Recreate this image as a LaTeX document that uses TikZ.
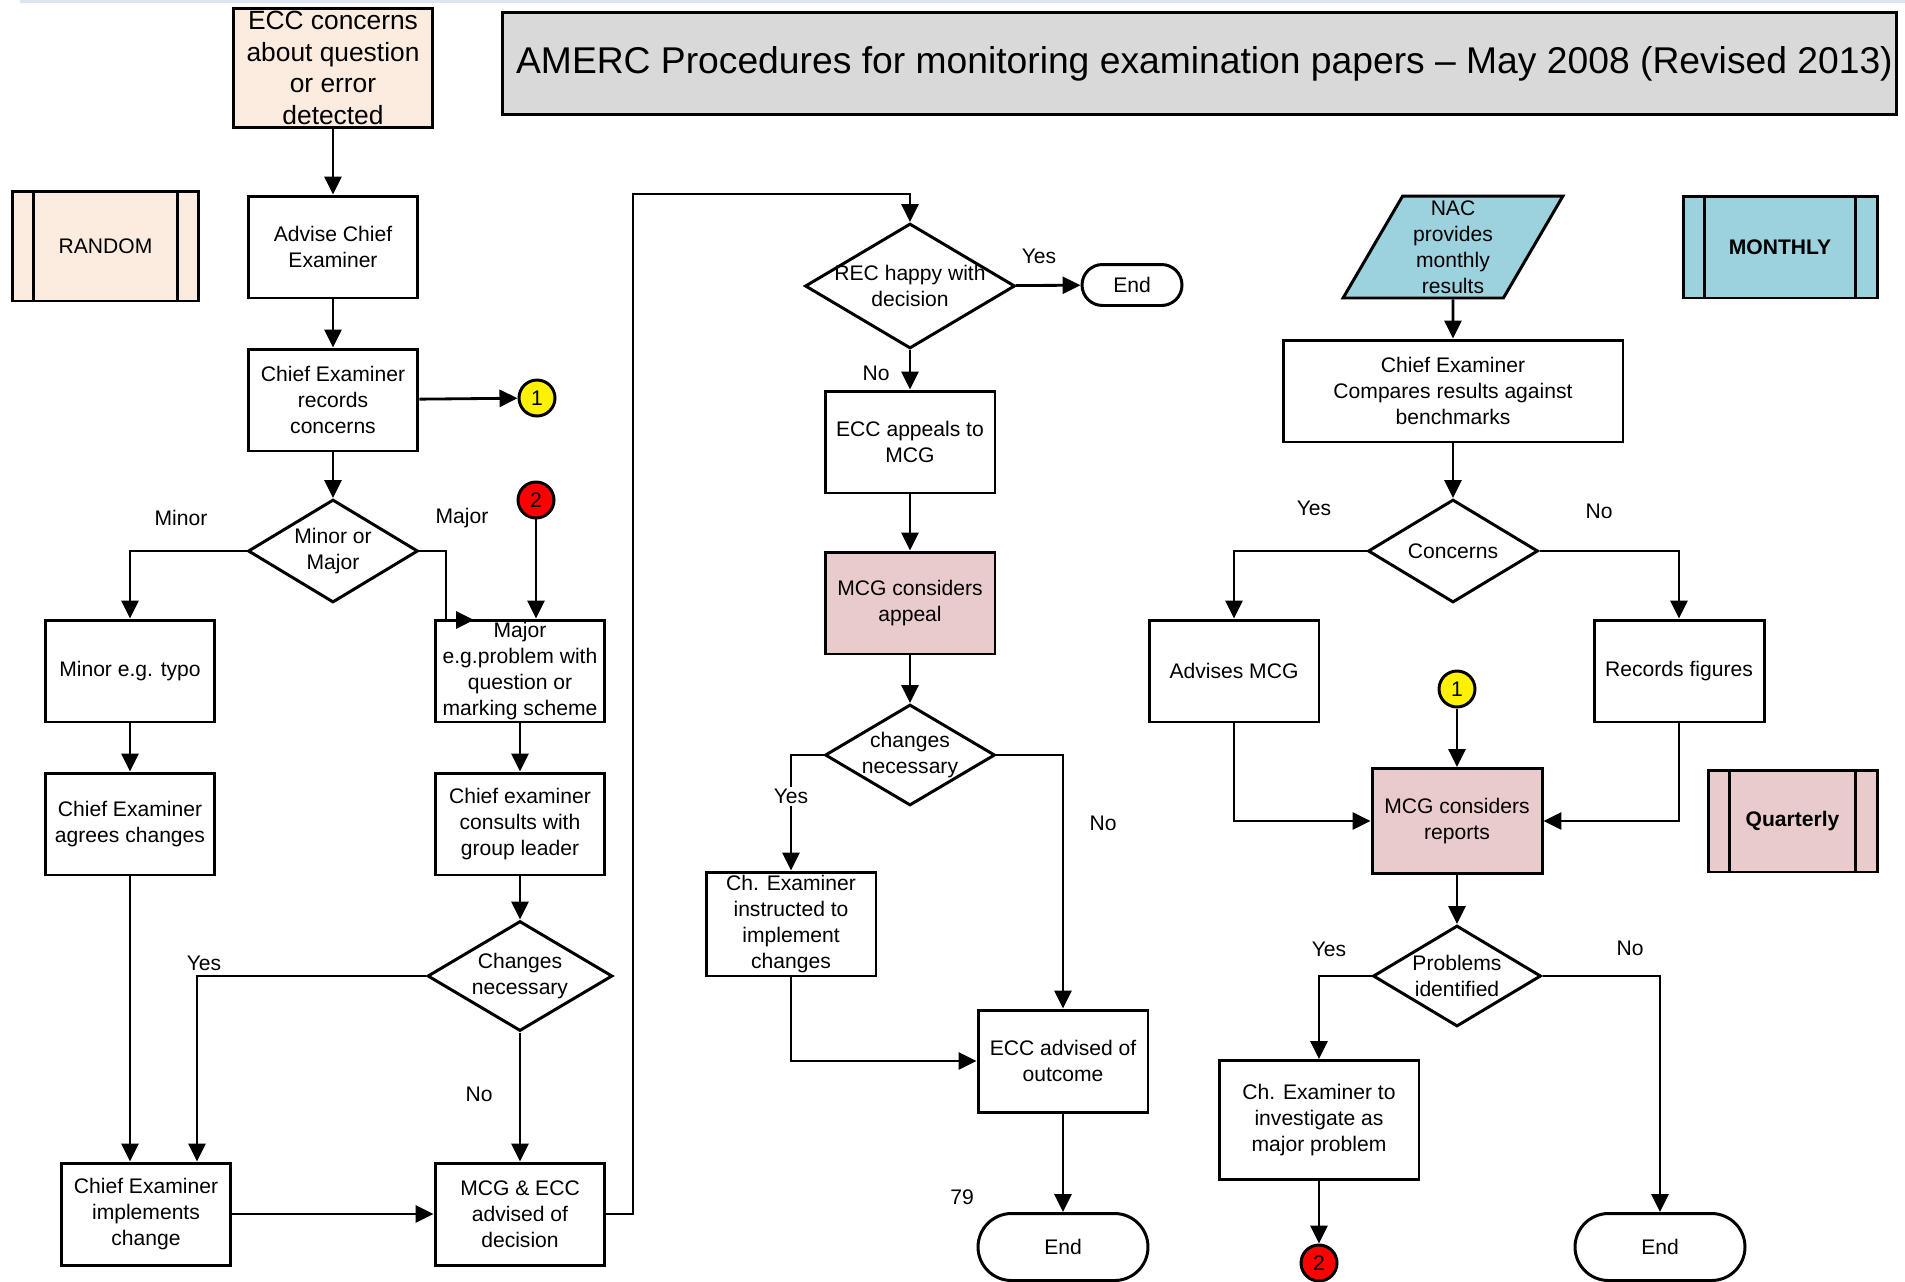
\documentclass[tikz,border=0pt]{standalone}
\usepackage{fontspec}
\setmainfont{Liberation Sans}
\usepackage{xcolor}
\usepackage{tikz}
\usetikzlibrary{shapes.geometric, arrows.meta, positioning, calc}
\definecolor{peachfill}{HTML}{FCEBDF}
\definecolor{pinkfill}{HTML}{EACBCB}
\definecolor{bluefill}{HTML}{9CD1DE}
\definecolor{titlegray}{HTML}{D9D9D9}
\definecolor{topstrip}{HTML}{DCE6F1}
\newcommand{\boxfont}{\fontsize{12}{14.7}\selectfont}
\newcommand{\eccfont}{\fontsize{15}{18}\selectfont}
\newcommand{\titlefont}{\fontsize{21.2}{25}\selectfont}
\tikzstyle{procbox} = [draw, rectangle, minimum width=3.4cm, minimum height=2.04cm, align=center, font=\boxfont, line width=1.7pt, inner sep=1pt]
\tikzstyle{predef} = [procbox, minimum width=3.4cm]
\tikzstyle{decnode} = [draw, diamond, inner sep=0pt, minimum width=3.4cm, minimum height=2.06cm, line width=1.7pt, fill=white]
\tikzstyle{dectext} = [align=center, font=\boxfont, inner sep=0pt]
\tikzstyle{termnode} = [draw, rectangle, rounded corners=0.67cm, minimum width=3.4cm, minimum height=1.34cm, font=\boxfont, line width=1.7pt]
\tikzstyle{connode} = [draw, circle, minimum size=0.72cm, inner sep=0pt, font=\boxfont, line width=1.7pt]
\tikzstyle{lbl} = [font=\boxfont, inner sep=1pt]
\tikzstyle{arrw} = [line width=1.6pt, -{Triangle[length=3.6mm, width=3.4mm]}]

\begin{document}
\begin{tikzpicture}[x=0.02cm, y=-0.02cm]
    \useasboundingbox (0,0) rectangle (1905,1281);
    \fill [topstrip] (20,0) rectangle (1905,3);

    % title
    \node (title) [procbox, fill=titlegray, minimum width=27.9cm, minimum height=2.06cm, font=\titlefont] at (1199.5,63.5) {\hspace*{0.2cm}AMERC Procedures for monitoring examination papers -- May 2008 (Revised 2013)};

    % random checks
    \node (ecc) [procbox, fill=peachfill, minimum width=4cm, minimum height=2.39cm, font=\eccfont, inner sep=0pt] at (333,68) {ECC concerns\\about question\\or error\\detected};
    \node (rand) [predef, fill=peachfill, minimum width=3.74cm, minimum height=2.2cm] at (105.5,246) {RANDOM};
    \node (adv) [procbox] at (333,247) {Advise Chief\\Examiner};
    \node (recc) [procbox] at (333,400) {Chief Examiner\\records\\concerns};
    \node (c1a) [connode, fill=yellow] at (537,398) {1};
    \node (mm) [decnode, label={[dectext]center:Minor or\\Major}] at (333,551) {};
    \node (minor) [procbox] at (130,671) {Minor e.g. typo};
    \node (major) [procbox, inner sep=0pt] at (520,671) {Major\\e.g.problem with\\question or\\marking scheme};
    \node (c2a) [connode, fill=red] at (536,500) {2};
    \node (agree) [procbox] at (130,824) {Chief Examiner\\agrees changes};
    \node (consult) [procbox] at (520,824) {Chief examiner\\consults with\\group leader};
    \node (chg) [decnode, minimum width=3.7cm, minimum height=2.2cm, label={[dectext]center:Changes\\necessary}] at (520,976) {};
    \node (impl) [procbox] at (146,1214) {Chief Examiner\\implements\\change};
    \node (mcgecc) [procbox] at (520,1214) {MCG \& ECC\\advised of\\decision};

    % appeal
    \node (rdec) [decnode, minimum width=4.2cm, minimum height=2.5cm, label={[dectext]center:REC happy with\\decision}] at (910,286) {};
    \node (end1) [termnode, rounded corners=0.41cm, minimum width=2cm, minimum height=0.82cm] at (1132,285) {End};
    \node (appeal) [procbox] at (910,442) {ECC appeals to\\MCG};
    \node (mcgapp) [procbox, fill=pinkfill] at (910,603) {MCG considers\\appeal};
    \node (cdec) [decnode, minimum height=2.02cm, label={[dectext]center:changes\\necessary}] at (910,755) {};
    \node (instr) [procbox, minimum height=2.08cm, inner sep=0pt] at (791,924) {Ch. Examiner\\instructed to\\implement\\changes};
    \node (eccout) [procbox] at (1063,1061) {ECC advised of\\outcome};
    \node (end2) [termnode] at (1063,1247) {End};
    \node (pgno) [lbl] at (962,1197) {79};

    % monthly checks
    \node (nac) [draw, trapezium, trapezium left angle=63, trapezium right angle=117, trapezium stretches=true, minimum width=4.4cm, minimum height=2.04cm, inner sep=0pt, align=center, font=\boxfont, line width=1.7pt, fill=bluefill] at (1453,247) {NAC\\provides\\monthly\\results};
    \node (mon) [predef, fill=bluefill, minimum width=3.88cm, font=\boxfont\bfseries] at (1780,247) {MONTHLY};
    \node (cmp) [procbox, minimum width=6.8cm] at (1453,391) {Chief Examiner\\Compares results against\\benchmarks};
    \node (cdia) [decnode, label={[dectext]center:Concerns}] at (1453,551) {};
    \node (advm) [procbox] at (1234,671) {Advises MCG};
    \node (recf) [procbox] at (1679,671) {Records figures};
    \node (c1b) [connode, fill=yellow] at (1457,689) {1};
    \node (mcgrep) [procbox, fill=pinkfill, minimum height=2.1cm] at (1457,821) {MCG considers\\reports};
    \node (qtr) [predef, fill=pinkfill, minimum width=3.38cm, font=\boxfont\bfseries] at (1792.5,821) {Quarterly};
    \node (pdia) [decnode, minimum width=3.36cm, minimum height=2.02cm, label={[dectext]center:Problems\\identified}] at (1457,976) {};
    \node (invest) [procbox, minimum width=4cm, minimum height=2.38cm] at (1319,1120) {Ch. Examiner to\\investigate as\\major problem};
    \node (c2b) [connode, fill=red] at (1319,1263) {2};
    \node (end3) [termnode] at (1660,1247) {End};

    % side bars of the predefined boxes
    \foreach \n in {rand, mon, qtr} {
        \draw [line width=1.7pt] ([xshift=0.46cm]\n.north west) -- ([xshift=0.46cm]\n.south west);
        \draw [line width=1.7pt] ([xshift=-0.46cm]\n.north east) -- ([xshift=-0.46cm]\n.south east);
    }

    % branch labels
    \node (lminor) [lbl] at (181,518) {Minor};
    \node (lmajor) [lbl] at (462,518) {Major};
    \node (lyes1) [lbl] at (204,963) {Yes};
    \node (lno1) [lbl] at (479,1094) {No};
    \node (lyes2) [lbl] at (1039,256) {Yes};
    \node (lno2) [lbl] at (876,373) {No};
    \node (lno3) [lbl] at (1103,823) {No};
    \node (lyes4) [lbl] at (1314,508) {Yes};
    \node (lno4) [lbl] at (1599,511) {No};
    \node (lyes5) [lbl] at (1329,949) {Yes};
    \node (lno5) [lbl] at (1630,948) {No};

    \coordinate (majbend) at (446,620);
    \coordinate (majtip) at (474,620);
    \coordinate (loop) at (633,194);

    \draw [arrw] (ecc) -- (adv);
    \draw [arrw] (adv) -- (recc);
    \draw [arrw] (recc) -- (c1a);
    \draw [arrw] (recc) -- (mm);
    \draw [arrw] (mm.west) -| (minor);
    \draw [arrw] (mm.east) -| (majbend) -- (majtip);
    \draw [arrw] (c2a) -- (c2a |- major.north);
    \draw [arrw] (minor) -- (agree);
    \draw [arrw] (major) -- (consult);
    \draw [arrw] (consult) -- (chg);
    \draw [arrw] (agree.south) -- (agree.south |- impl.north);
    \draw [arrw] (chg.west) -| ($(impl.north)+(51,0)$);
    \draw [arrw] (chg) -- (mcgecc);
    \draw [arrw] (impl) -- (mcgecc);
    \draw [arrw] (mcgecc.east) -| (loop) -| (rdec.north);

    \draw [arrw] (rdec) -- (end1);
    \draw [arrw] (rdec) -- (appeal);
    \draw [arrw] (appeal) -- (mcgapp);
    \draw [arrw] (mcgapp) -- (cdec);
    \draw [arrw] (cdec.west) -| node[lbl, fill=white, pos=0.68] (lyes3) {Yes} (instr.north);
    \draw [arrw] (cdec.east) -| (eccout.north);
    \draw [arrw] (instr.south) |- (eccout.west);
    \draw [arrw] (eccout) -- (end2);

    \draw [arrw] (nac) -- (cmp);
    \draw [arrw] (cmp) -- (cdia);
    \draw [arrw] (cdia.west) -| (advm);
    \draw [arrw] (cdia.east) -| (recf);
    \draw [arrw] (c1b) -- (mcgrep);
    \draw [arrw] (advm.south) |- (mcgrep.west);
    \draw [arrw] (recf.south) |- (mcgrep.east);
    \draw [arrw] (mcgrep) -- (pdia);
    \draw [arrw] (pdia.west) -| (invest);
    \draw [arrw] (pdia.east) -| (end3);
    \draw [arrw] (invest) -- (c2b);
\end{tikzpicture}
\end{document}
